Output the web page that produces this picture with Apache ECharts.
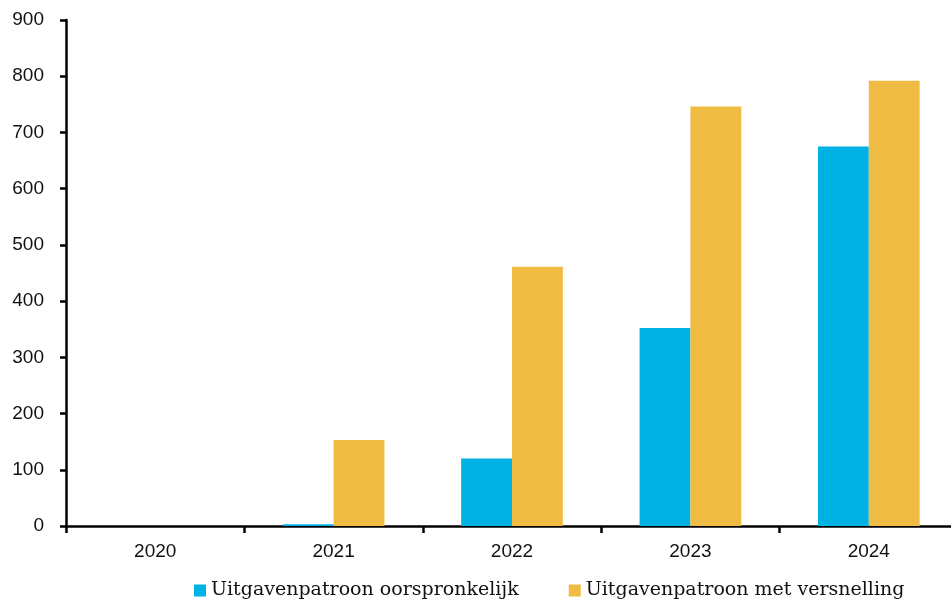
<!DOCTYPE html>
<html>
<head>
<meta charset="utf-8">
<script src="https://cdn.jsdelivr.net/npm/echarts@6/dist/echarts.min.js"></script>
<style>
  html,body{margin:0;padding:0;background:#fff;overflow:hidden;}
  #chart{width:951px;height:602px;}
</style>
</head>
<body>
<div id="chart"></div>
<script>
// jaren op de x-as
const jaren = ['2020', '2021', '2022', '2023', '2024']
// twee reeksen
const oorspronkelijk = [0, 3, 120, 352, 675]
const versnelling = [0, 153, 461, 746, 792]
const reeksNamen = ['Uitgavenpatroon oorspronkelijk', 'Uitgavenpatroon met versnelling']

const chart = echarts.init(document.getElementById('chart'))

chart.setOption({
  animation: false,
  grid: {
    left: 66,
    width: 892,
    top: 20,
    bottom: 76,
    outerBoundsMode: 'none'
  },
  legend: {
    bottom: -3,
    left: 189,
    itemWidth: 12,
    itemHeight: 12,
    itemGap: 50,
    icon: 'rect',
    textStyle: {
      fontFamily: 'DejaVu Serif',
      fontSize: 19,
      color: '#111'
    },
    data: reeksNamen
  },
  xAxis: {
    type: 'category',
    data: jaren,
    axisLine: { lineStyle: { color: '#000', width: 2.5 } },
    axisTick: { show: true, length: 7, lineStyle: { color: '#000', width: 2.5 } },
    axisLabel: { color: '#111', fontFamily: 'Liberation Sans', fontSize: 19, margin: 16 }
  },
  yAxis: {
    type: 'value',
    min: 0,
    max: 900,
    interval: 100,
    splitLine: { show: false },
    axisLine: { show: true, lineStyle: { color: '#000', width: 2.5 } },
    axisTick: { show: true, length: 6, lineStyle: { color: '#000', width: 2.5 } },
    axisLabel: { color: '#111', fontFamily: 'Liberation Sans', fontSize: 19, margin: 22 }
  },
  series: [
    {
      name: reeksNamen[0],
      type: 'bar',
      data: oorspronkelijk,
      barGap: '0%',
      barCategoryGap: '43%',
      itemStyle: { color: '#00B2E3' }
    },
    {
      name: reeksNamen[1],
      type: 'bar',
      data: versnelling,
      barGap: '0%',
      barCategoryGap: '43%',
      itemStyle: { color: '#EFBB43' }
    }
  ]
})
</script>
</body>
</html>
